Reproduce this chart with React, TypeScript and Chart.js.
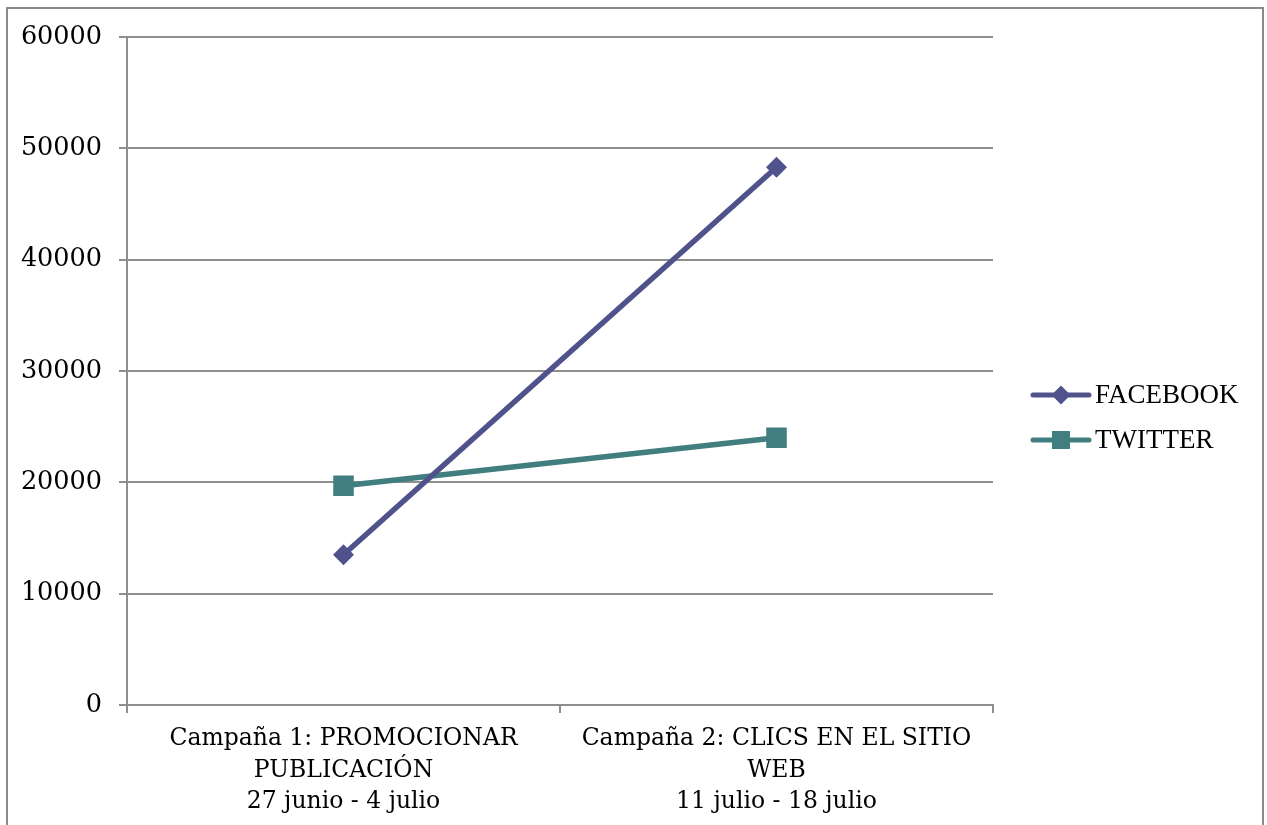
import React, { useEffect, useRef } from 'react';
import { Chart, registerables } from 'chart.js';

Chart.register(...registerables);

const categories: string[][] = [
  ['Campaña 1: PROMOCIONAR', 'PUBLICACIÓN', '27 junio - 4 julio'],
  ['Campaña 2: CLICS EN EL SITIO', 'WEB', '11 julio - 18 julio'],
];
const facebookValues = [13500, 48300];
const twitterValues = [19700, 24000];
const yTicks = [0, 10000, 20000, 30000, 40000, 50000, 60000];
const seriesNames = ['FACEBOOK', 'TWITTER'];
const seriesColors = ['#50528C', '#417E80'];
const seriesMarkers = ['rectRot', 'rect'];

const GRID = '#8e8e8e';
const X_FONT = { family: '"DejaVu Serif", "Liberation Serif", serif', size: 23.5, lineHeight: 1.35 };
const Y_FONT = { family: '"DejaVu Serif", "Liberation Serif", serif', size: 25.5 };

const legendPlugin = {
  id: 'sideLegend',
  afterDraw(chart: any) {
    const { ctx, chartArea } = chart;
    const x0 = chartArea.right + 40;
    const cy = (chartArea.top + chartArea.bottom) / 2 + 24;
    chart.data.datasets.forEach((ds: any, i: number) => {
      const y = cy + i * 45;
      ctx.save();
      ctx.strokeStyle = ds.borderColor;
      ctx.lineWidth = 5;
      ctx.lineCap = 'round';
      ctx.beginPath();
      ctx.moveTo(x0, y);
      ctx.lineTo(x0 + 56, y);
      ctx.stroke();
      ctx.fillStyle = ds.borderColor;
      const mx = x0 + 28;
      ctx.beginPath();
      if (ds.pointStyle === 'rectRot') {
        const r = 9.5;
        ctx.moveTo(mx - r, y);
        ctx.lineTo(mx, y - r);
        ctx.lineTo(mx + r, y);
        ctx.lineTo(mx, y + r);
        ctx.closePath();
      } else {
        const h = 9;
        ctx.rect(mx - h, y - h, 2 * h, 2 * h);
      }
      ctx.fill();
      ctx.fillStyle = '#000';
      ctx.font = '27px "Liberation Serif", serif';
      ctx.textBaseline = 'middle';
      ctx.textAlign = 'left';
      ctx.fillText(ds.label, x0 + 62, y + 1);
      ctx.restore();
    });
  },
};

export default function App() {
  const canvasRef = useRef<HTMLCanvasElement | null>(null);

  useEffect(() => {
    if (!canvasRef.current) return;
    const values = [facebookValues, twitterValues];
    const chart = new Chart(canvasRef.current, {
      type: 'line',
      data: {
        labels: categories,
        datasets: seriesNames.map((name, i) => ({
          label: name,
          data: values[i],
          borderColor: seriesColors[i],
          backgroundColor: seriesColors[i],
          borderWidth: 5.5,
          tension: 0,
          fill: false,
          pointStyle: seriesMarkers[i] as any,
          pointRadius: i === 0 ? 10.5 : 14.5,
          pointBorderWidth: 0,
          pointBackgroundColor: seriesColors[i],
          pointBorderColor: seriesColors[i],
        })),
      },
      options: {
        animation: false,
        responsive: true,
        maintainAspectRatio: false,
        layout: { padding: { left: 10, top: 37, right: 274, bottom: 0 } },
        plugins: {
          legend: { display: false },
          tooltip: { enabled: false },
          title: { display: false },
        },
        scales: {
          x: {
            type: 'category',
            offset: true,
            afterFit: (scale: any) => {
              scale.height = 120;
            },
            grid: {
              offset: true,
              drawOnChartArea: false,
              drawTicks: true,
              tickLength: 8,
              color: GRID,
              lineWidth: 2,
            },
            border: { display: true, color: GRID, width: 2 },
            ticks: {
              color: '#000',
              font: X_FONT,
              padding: 10,
              maxRotation: 0,
              autoSkip: false,
            },
          },
          y: {
            min: 0,
            max: 60000,
            afterBuildTicks: (scale: any) => {
              scale.ticks = yTicks.map((v) => ({ value: v }));
            },
            afterFit: (scale: any) => {
              scale.width = 117;
            },
            grid: {
              color: GRID,
              lineWidth: 2,
              tickLength: 8,
              drawTicks: true,
            },
            border: { display: true, color: GRID, width: 2 },
            ticks: {
              color: '#000',
              font: Y_FONT,
              padding: 17,
              callback: (v: any) => String(v),
            },
          },
        },
      },
      plugins: [legendPlugin],
    });
    return () => chart.destroy();
  }, []);

  return (
    <div
      style={{
        position: 'fixed',
        left: 0,
        top: 0,
        width: 1267,
        height: 825,
        overflow: 'hidden',
        background: '#fff',
      }}
    >
      <div
        style={{
          position: 'absolute',
          left: 6,
          top: 7,
          width: 1258,
          height: 900,
          boxSizing: 'border-box',
          border: '2px solid #8a8a8a',
        }}
      />
      <div style={{ position: 'absolute', left: 0, top: 0, width: 1267, height: 825 }}>
        <canvas ref={canvasRef} />
      </div>
    </div>
  );
}
